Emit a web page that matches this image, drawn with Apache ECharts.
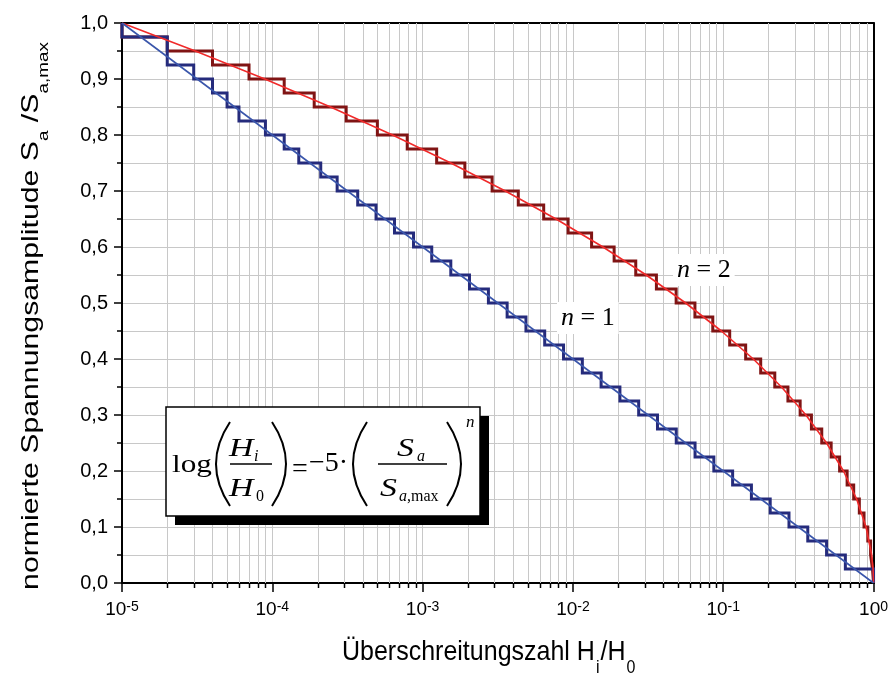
<!DOCTYPE html>
<html><head><meta charset="utf-8">
<script src="https://cdn.jsdelivr.net/npm/echarts@6/dist/echarts.min.js"></script>
<style>html,body{margin:0;padding:0;background:#fff}#c{width:891px;height:675px}</style>
</head><body><div id="c"></div>
<script>
// ---------- data ----------
const H0 = 100000;
// class levels S_a/S_a,max (upper bound of each class)
const stepLevels = [1.0,0.975,0.95,0.925,0.9,0.875,0.85,0.825,0.8,0.775,0.75,0.725,0.7,0.675,0.65,0.625,0.6,0.575,0.55,0.525,0.5,0.475,0.45,0.425,0.4,0.375,0.35,0.325,0.3,0.275,0.25,0.225,0.2,0.175,0.15,0.125,0.1,0.075,0.05,0.025,0.0];
// cumulative counts H_i (of H0) at the class boundaries, n = 1
const blueStepCounts = [1,2,2,3,4,5,6,9,12,15,21,27,37,49,65,87,115,154,205,274,365,487,649,866,1155,1540,2054,2738,3652,4870,6494,8660,11548,15399,20535,27384,36517,48697,64938,100000];
// cumulative counts H_i (of H0) at the class boundaries, n = 2
const redStepCounts = [1,2,4,7,12,19,31,50,79,124,191,290,433,639,929,1331,1880,2618,3593,4861,6482,8521,11040,14100,17751,22028,26944,32488,38612,45234,52236,59459,66714,73785,80439,86441,91563,95602,98394,100000];
// continuous spectrum n = 1
const blueCurveH = [1e-5, 1];
const blueCurveS = [1, 0];
// continuous spectrum n = 2
const redCurveH = [1e-5,3.0726e-5,8.9125e-5,2.4406e-4,6.3096e-4,1.5399e-3,3.5481e-3,7.7179e-3,1.5849e-2,3.0726e-2,5.6234e-2,9.7163e-2,0.15849,0.24406,0.35481,0.48697,0.63096,0.77179,0.89125,0.97163,0.99283,1.0];
const redCurveS = [1.0,0.95,0.9,0.85,0.8,0.75,0.7,0.65,0.6,0.55,0.5,0.45,0.4,0.35,0.3,0.25,0.2,0.15,0.1,0.05,0.025,0.0];
// axis tick labels
const yTickLabels = ['0,0','0,1','0,2','0,3','0,4','0,5','0,6','0,7','0,8','0,9','1,0'];
const xDecades = [1e-5,1e-4,1e-3,1e-2,1e-1];
const minorMultipliers = [2,3,4,5,6,7,8,9];

// ---------- build ----------
function stairs(counts){
  const pts = [[counts[0]/H0, stepLevels[0]]];
  for (let k = 1; k < counts.length; k++) {
    pts.push([counts[k-1]/H0, stepLevels[k]]);
    pts.push([counts[k]/H0, stepLevels[k]]);
  }
  pts.push([counts[counts.length-1]/H0, stepLevels[counts.length]]);
  return pts;
}
const pair = (xs, ys) => xs.map((x,i)=>[x, ys[i]]);
const minorX = [];
xDecades.forEach(d => minorMultipliers.forEach(m => minorX.push(m*d)));

const GRID = '#c8c8c8';
const SANS = 'Liberation Sans, Arial, sans-serif';
const SERIF = 'Liberation Serif, Times New Roman, serif';

const chart = echarts.init(document.getElementById('c'), null, {renderer:'canvas'});

function T(opts){ // graphic text helper
  const st = Object.assign({fill:'#000', fontFamily: SERIF, textAlign:'left', textVerticalAlign:'middle', align:'left', verticalAlign:'middle'}, opts.style);
  return Object.assign({type:'text', z:110, silent:true}, opts, {style: st});
}
function paren(xEnd, xBulge, top, bot){
  const mid = (top+bot)/2;
  const cp = 2*xBulge - xEnd;
  return {type:'bezierCurve', z:110, silent:true,
    shape:{x1:xEnd, y1:top, x2:xEnd, y2:bot, cpx1:cp, cpy1:mid},
    style:{stroke:'#000', lineWidth:2, fill:null}};
}

const option = {
  animation:false,
  backgroundColor:'#fff',
  grid:{left:122, right:13, top:23, bottom:92, containLabel:false},
  xAxis:[{
    type:'log', logBase:10, min:1e-5, max:1, position:'bottom',
    axisLine:{show:true, onZero:false, lineStyle:{color:'#000', width:2}},
    axisTick:{show:true, inside:false, length:9, lineStyle:{color:'#000', width:1.5}},
    splitLine:{show:true, lineStyle:{color:GRID, width:1}},
    axisLabel:{margin:17, color:'#000', fontSize:19, fontFamily:SANS,
      formatter: v => '{b|10}{e|' + Math.round(Math.log10(v)) + '}',
      rich:{ b:{fontSize:19, fontFamily:SANS, lineHeight:22, verticalAlign:'top', color:'#000'},
             e:{fontSize:14, fontFamily:SANS, lineHeight:13, verticalAlign:'top', color:'#000'} } }
  },{
    type:'log', logBase:10, min:1e-5, max:1, position:'top',
    axisLine:{show:true, onZero:false, lineStyle:{color:'#000', width:2}},
    axisTick:{show:false}, axisLabel:{show:false}, splitLine:{show:false}
  }],
  yAxis:[{
    type:'value', min:0, max:1, interval:0.1, position:'left',
    axisLine:{show:true, onZero:false, lineStyle:{color:'#000', width:2}},
    axisTick:{show:true, inside:false, length:8, lineStyle:{color:'#000', width:1.5}},
    minorTick:{show:true, splitNumber:2, length:5, lineStyle:{color:'#000', width:1.5}},
    splitLine:{show:true, lineStyle:{color:GRID, width:1}},
    minorSplitLine:{show:true, lineStyle:{color:GRID, width:1}},
    axisLabel:{margin:14, color:'#000', fontSize:20, fontFamily:SANS,
      formatter: v => yTickLabels[Math.round(v*10)]}
  },{
    type:'value', min:0, max:1, position:'right',
    axisLine:{show:true, onZero:false, lineStyle:{color:'#000', width:2}},
    axisTick:{show:false}, axisLabel:{show:false}, splitLine:{show:false}
  }],
  series:[
    {type:'custom', silent:true, z:1, xAxisIndex:0, yAxisIndex:0,
      data: minorX.map(v=>[v,0]), encode:{x:0, y:1},
      renderItem:(params, api) => {
        const x = api.value(0);
        const t = api.coord([x,1]), b = api.coord([x,0]);
        const px = Math.round(b[0]) + 0.5;
        return {type:'group', children:[
          {type:'line', shape:{x1:px, y1:t[1], x2:px, y2:b[1]}, style:{stroke:GRID, lineWidth:1}},
          {type:'line', shape:{x1:px, y1:b[1], x2:px, y2:b[1]+5}, style:{stroke:'#000', lineWidth:1.5}}
        ]};
      }},
    {type:'line', name:'n=2 Stufen', data: stairs(redStepCounts), symbol:'none', clip:false, z:3,
      lineStyle:{color:'#801414', width:3, join:'miter'}},
    {type:'line', name:'n=1 Stufen', data: stairs(blueStepCounts), symbol:'none', clip:false, z:3,
      lineStyle:{color:'#252b7c', width:3, join:'miter'}},
    {type:'line', name:'n=2', data: pair(redCurveH, redCurveS), symbol:'none', z:4,
      lineStyle:{color:'#f02a2a', width:1.6}},
    {type:'line', name:'n=1', data: pair(blueCurveH, blueCurveS), symbol:'none', z:4,
      lineStyle:{color:'#3a56ab', width:1.6}}
  ],
  graphic:[
    // axis titles
    T({x:342, y:638, scaleY:1.12, style:{text:'{m|Überschreitungszahl H}{s|i}{m|/H}{s|0}', fontFamily:SANS, textVerticalAlign:'top', verticalAlign:'top',
      rich:{ m:{fontSize:25, fontFamily:SANS, lineHeight:29, verticalAlign:'top', fill:'#000'},
             s:{fontSize:16, fontFamily:SANS, lineHeight:16, padding:[19,1,0,1], verticalAlign:'top', fill:'#000'} }}}),
    T({x:19, y:316, rotation:Math.PI/2, scaleX:1.26, style:{text:'{m|normierte Spannungsamplitude S}{s|a}{m| /S}{s|a,max}', fontFamily:SANS,
      textAlign:'center', align:'center', textVerticalAlign:'top', verticalAlign:'top',
      rich:{ m:{fontSize:24, fontFamily:SANS, lineHeight:28, verticalAlign:'top', fill:'#000'},
             s:{fontSize:15, fontFamily:SANS, lineHeight:15, padding:[17,0,0,0], verticalAlign:'top', fill:'#000'} }}}),
    // curve labels
    T({x:557, y:318, style:{text:'{i|n} = 1', fontSize:26, fontFamily:SERIF, backgroundColor:'#fff', padding:[3,4,3,4],
      rich:{i:{fontSize:26, fontFamily:SERIF, fontStyle:'italic'}}}}),
    T({x:673, y:270, style:{text:'{i|n} = 2', fontSize:26, fontFamily:SERIF, backgroundColor:'#fff', padding:[3,4,3,4],
      rich:{i:{fontSize:26, fontFamily:SERIF, fontStyle:'italic'}}}}),
    // formula box
    {type:'rect', z:105, silent:true, shape:{x:175, y:416, width:314, height:109}, style:{fill:'#000'}},
    {type:'rect', z:106, silent:true, shape:{x:166, y:407, width:314, height:109}, style:{fill:'#fff', stroke:'#000', lineWidth:1.5}},
    T({x:172, y:465, scaleX:1.2, style:{text:'log', fontSize:26}}),
    paren(230, 216, 422, 506),
    T({x:229, y:449, scaleX:1.3, style:{text:'H', fontSize:26, fontStyle:'italic'}}),
    T({x:254, y:457, style:{text:'i', fontSize:16, fontStyle:'italic'}}),
    {type:'line', z:110, silent:true, shape:{x1:230, y1:464, x2:272, y2:464}, style:{stroke:'#000', lineWidth:1.3}},
    T({x:229, y:489, scaleX:1.3, style:{text:'H', fontSize:26, fontStyle:'italic'}}),
    T({x:256, y:497, style:{text:'0', fontSize:16}}),
    paren(272, 286, 422, 506),
    T({x:292, y:470, style:{text:'=', fontSize:28}}),
    T({x:309, y:464, style:{text:'\u22125\u00b7', fontSize:28}}),
    paren(367, 353, 422, 506),
    T({x:397, y:449, scaleX:1.3, style:{text:'S', fontSize:26, fontStyle:'italic'}}),
    T({x:417, y:457, style:{text:'a', fontSize:16, fontStyle:'italic'}}),
    {type:'line', z:110, silent:true, shape:{x1:378, y1:464, x2:447, y2:464}, style:{stroke:'#000', lineWidth:1.3}},
    T({x:380, y:489, scaleX:1.3, style:{text:'S', fontSize:26, fontStyle:'italic'}}),
    T({x:399, y:497, style:{text:'{i|a},max', fontSize:16, rich:{i:{fontSize:16, fontFamily:SERIF, fontStyle:'italic'}}}}),
    paren(447, 461, 422, 506),
    T({x:466, y:423, style:{text:'n', fontSize:17, fontStyle:'italic'}})
  ]
};
chart.setOption(option);
</script></body></html>
